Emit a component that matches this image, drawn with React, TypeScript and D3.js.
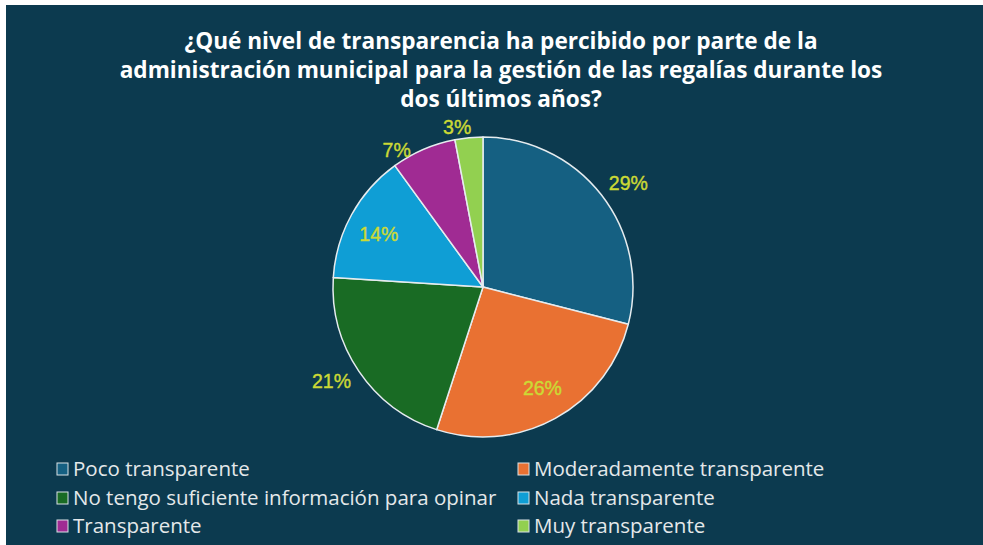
import React, { useEffect, useRef } from 'react'
import * as d3 from 'd3'

// survey answers, clockwise from 12 o'clock
const categories = [
  'Poco transparente',
  'Moderadamente transparente',
  'No tengo suficiente información para opinar',
  'Nada transparente',
  'Transparente',
  'Muy transparente',
]
const shares = [29, 26, 21, 14, 7, 3]
const sliceColors = ['#156082', '#e97132', '#196b24', '#0f9ed5', '#a02b93', '#92d050']
const titleLines = [
  '¿Qué nivel de transparencia ha percibido por parte de la',
  'administración municipal para la gestión de las regalías durante los',
  'dos últimos años?',
]
// slices whose label sits inside the pie
const insideLabels = ['Moderadamente transparente', 'Nada transparente']

const W = 983
const H = 545

function App() {
  const ref = useRef<SVGSVGElement>(null)

  useEffect(() => {
    const svg = d3.select(ref.current)
    svg.selectAll('*').remove()

    // white frame strips at top / left, dark panel behind
    svg.append('rect').attr('width', W).attr('height', H).attr('fill', '#ffffff')
    svg.append('rect').attr('x', 6).attr('y', 5).attr('width', W - 6).attr('height', H - 5)
      .attr('fill', '#0c3a4f')

    const title = svg.append('text')
      .attr('text-anchor', 'middle')
      .style('font-family', '"Open Sans", sans-serif')
      .style('font-weight', 700)
      .style('font-size', '22.6px')
      .attr('fill', '#ffffff')
    titleLines.forEach((t, i) => {
      title.append('tspan').attr('x', 501).attr('y', 49 + i * 29).text(t)
    })

    const cx = 483, cy = 287, r = 150
    const pie = d3.pie<number>().sort(null).value(d => d)
    const arcs = pie(shares)
    const arc = d3.arc<d3.PieArcDatum<number>>().innerRadius(0).outerRadius(r)

    const g = svg.append('g').attr('transform', `translate(${cx},${cy})`)
    g.selectAll('path.slice')
      .data(arcs)
      .enter()
      .append('path')
      .attr('class', 'slice')
      .attr('d', arc)
      .attr('fill', (d, i) => sliceColors[i])
      .attr('stroke', '#e6ecef')
      .attr('stroke-width', 1.5)
      .attr('stroke-linejoin', 'round')

    g.selectAll('text.lbl')
      .data(arcs)
      .enter()
      .append('text')
      .attr('class', 'lbl')
      .attr('text-anchor', 'middle')
      .attr('dy', '0.35em')
      .attr('transform', (d, i) => {
        const a = (d.startAngle + d.endAngle) / 2
        const span = d.endAngle - d.startAngle
        const inside = insideLabels.includes(categories[i])
        const small = span < 0.5
        let rr = r * 1.19, aa = a + 0.04
        if (inside) { rr = r * 0.78; aa = a - 0.03 }
        else if (small) { rr = r * 1.08; aa = a - span * 0.35 }
        return `translate(${Math.sin(aa) * rr},${-Math.cos(aa) * rr})`
      })
      .style('font-family', '"Liberation Sans", Arial, sans-serif')
      .style('font-size', '19.5px')
      .attr('fill', '#ccd935')
      .attr('stroke', '#ccd935')
      .attr('stroke-width', 0.4)
      .text((d, i) => shares[i] + '%')

    // legend, two columns
    const colX = [57, 518]
    const rowY = [469, 498, 526]
    const leg = svg.append('g')
    categories.forEach((c, i) => {
      const x = colX[i % 2]
      const y = rowY[Math.floor(i / 2)]
      leg.append('rect')
        .attr('x', x).attr('y', y - 6).attr('width', 11).attr('height', 12)
        .attr('fill', sliceColors[i])
        .attr('stroke', '#d9e2e6').attr('stroke-width', 1)
      leg.append('text')
        .attr('x', x + 16).attr('y', y).attr('dy', '0.35em')
        .style('font-family', '"Open Sans", sans-serif')
        .style('font-size', '20.5px')
        .attr('fill', '#e4e8ea')
        .text(c)
    })
  }, [])

  return <svg ref={ref} width={W} height={H} style={{ position: 'absolute', left: 0, top: 0 }} />
}

export default App
